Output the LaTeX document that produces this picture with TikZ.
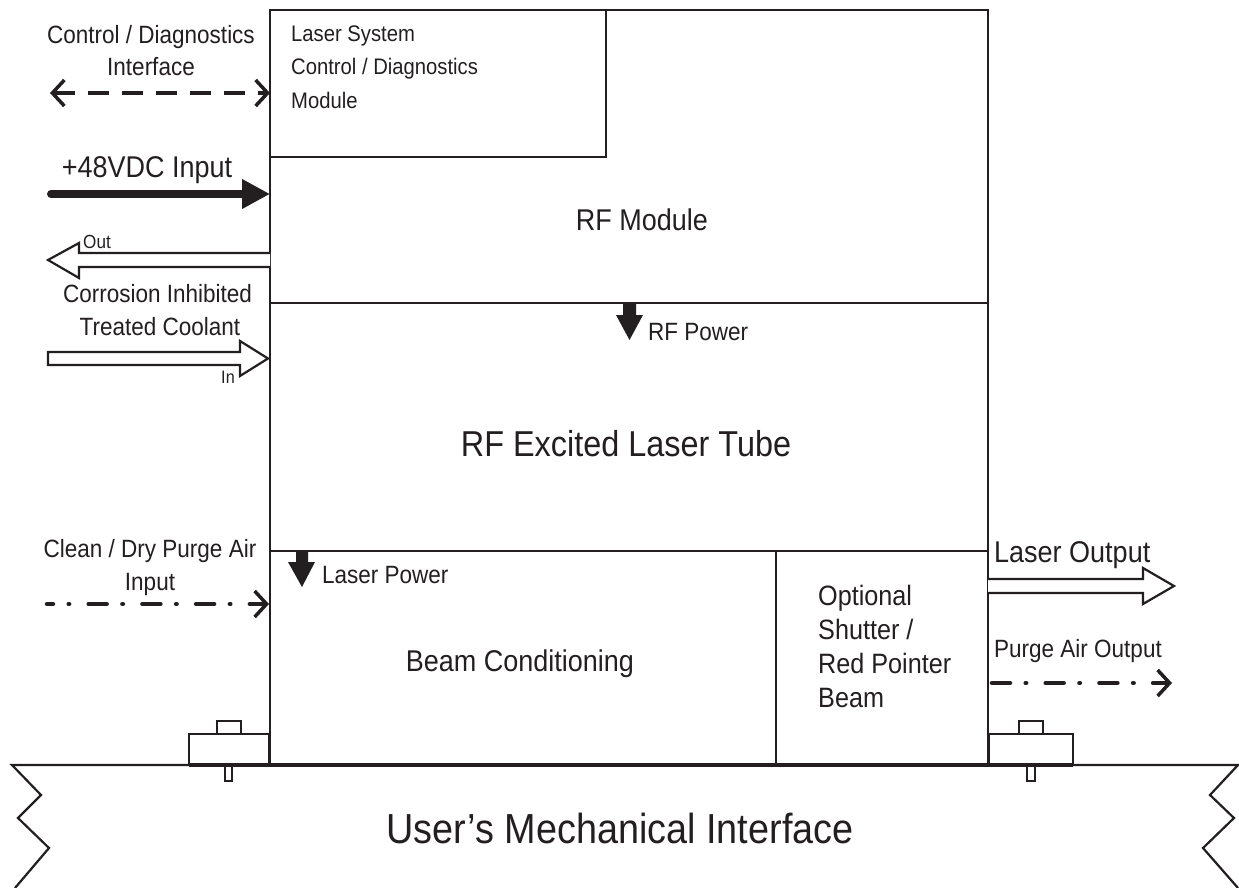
\documentclass[tikz,border=0pt]{standalone}
\usepackage{fontspec}
\setmainfont[FakeStretch=0.9]{Liberation Sans}
\usetikzlibrary{arrows.meta}
\definecolor{ink}{RGB}{35,31,32}
\begin{document}
\begin{tikzpicture}[x=1pt,y=-1pt,
  box/.style={draw=ink, line width=2.2pt, inner sep=0pt, outer sep=0pt, anchor=north west},
  smallbox/.style={draw=ink, line width=1.8pt, inner sep=0pt, outer sep=0pt, anchor=north west},
  txt/.style={text=ink, inner sep=0pt, anchor=base, font=\fontsize{25}{30}\selectfont},
  txtl/.style={txt, anchor=base west},
  mid/.style={font=\fontsize{30}{36}\selectfont},
  tiny/.style={font=\fontsize{19}{22}\selectfont},
  modtxt/.style={font=\fontsize{22.5}{27}\selectfont},
  shtxt/.style={font=\fontsize{28}{33}\selectfont},
  dasharrow/.style={draw=ink, line width=4pt, dash pattern=on 21pt off 13pt,
    {Straight Barb[length=12pt,width=26pt,line width=3.5pt]}-{Straight Barb[length=12pt,width=26pt,line width=3.5pt]}},
  dashdot/.style={draw=ink, line width=4.5pt, line cap=round,
    dash pattern=on 18pt off 15.7pt on 0.5pt off 19.5pt, dash phase=12pt},
  barb/.style={-{Straight Barb[length=12pt,width=26pt,line width=3.5pt]}},
  hollow/.style={draw=ink, line width=2.2pt, fill=white, line join=miter},
  solidtip/.style={fill=ink},
]
\useasboundingbox (0,0) rectangle (1239,888);

% ---- main blocks
\node[box, minimum width=718pt, minimum height=293pt] (rf) at (270,10) {};
\node[box, minimum width=336pt, minimum height=147pt] (ctrl) at (270,10) {};
\node[box, minimum width=718pt, minimum height=248pt] (tube) at (270,303) {};
\node[box, minimum width=506pt, minimum height=213pt] (beam) at (270,551) {};
\node[box, minimum width=212pt, minimum height=213pt] (shut) at (776,551) {};

% ---- feet
\node[box, minimum width=80pt, minimum height=31pt] (footL) at (189,734) {};
\node[smallbox, minimum width=24pt, minimum height=13pt] (nubL) at (217,721) {};
\node[smallbox, minimum width=7pt, minimum height=16pt] (pinL) at (225,765) {};
\node[box, minimum width=84pt, minimum height=31pt] (footR) at (989,734) {};
\node[smallbox, minimum width=24pt, minimum height=13pt] (nubR) at (1019,721) {};
\node[smallbox, minimum width=8pt, minimum height=16pt] (pinR) at (1027,765) {};

% ---- mechanical interface (base)
\coordinate (bL) at (12,765);
\coordinate (bR) at (1238,765);
\draw[draw=ink, line width=2.2pt, line join=miter]
  (15,888) -- (49,848) -- (18,818) -- (41,795) -- (bL) -- (bR)
  -- (1210,795) -- (1234,818) -- (1203,848) -- (1238,888);
\draw[draw=ink, line width=3.6pt] (footL.south west) -- (footR.south east);
\node[txt, font=\fontsize{42}{48}\selectfont] (user) at (620,843) {User’s Mechanical Interface};

% ---- block texts
\node[txtl, modtxt] (ms1) at (291,42) {Laser System};
\node[txtl, modtxt] (ms2) at (291,75) {Control / Diagnostics};
\node[txtl, modtxt] (ms3) at (291,109) {Module};
\node[txt, font=\fontsize{30}{36}\selectfont] (rft) at (642,230) {RF Module};
\node[txt, font=\fontsize{36}{42}\selectfont] (tubet) at (626,456) {RF Excited Laser Tube};
\node[txt, font=\fontsize{30}{36}\selectfont] (beamt) at (520,671) {Beam Conditioning};
\node[txtl, shtxt] (sh1) at (818,605) {Optional};
\node[txtl, shtxt] (sh2) at (818,639) {Shutter /};
\node[txtl, shtxt] (sh3) at (818,673) {Red Pointer};
\node[txtl, shtxt] (sh4) at (818,707) {Beam};

% ---- internal power arrows
\fill[solidtip] (623,303) -- (636,303) -- (636,315) -- (643,315) -- (629.5,340) -- (616,315) -- (623,315) -- cycle;
\node[txtl] (rfp) at (648,340) {RF Power};
\fill[solidtip] (296,551) -- (308,551) -- (308,562) -- (315,562) -- (302,587) -- (288,562) -- (296,562) -- cycle;
\node[txtl] (lp) at (322,583) {Laser Power};

% ---- control / diagnostics interface
\node[txt] (cd1) at (151,44) {Control / Diagnostics};
\node[txt] (cd2) at (151,76) {Interface};
\coordinate (cdL) at (50,93);
\draw[dasharrow] (cdL) -- (cdL -| ctrl.west);

% ---- +48VDC
\node[txt, mid] (dc) at (147,177) {+48VDC Input};
\coordinate (dcL) at (51,194);
\draw[draw=ink, line width=8pt, line cap=round, -{Triangle[length=28pt,width=28pt]}] (dcL) -- (dcL -| rf.west);

% ---- coolant
\draw[hollow] (270,253) -- (79,253) -- (79,243) -- (48,260) -- (79,278) -- (79,267) -- (270,267);
\node[txt, tiny] (outl) at (97,248) {Out};
\node[txt] (co1) at (157.5,302) {Corrosion Inhibited};
\node[txt] (co2) at (160,335) {Treated Coolant};
\draw[hollow] (48,352) -- (240,352) -- (240,341) -- (268,358.5) -- (240,376) -- (240,365) -- (48,365) -- cycle;
\node[txt, font=\fontsize{18}{22}\selectfont] (inl) at (228,383) {In};

% ---- purge air in
\node[txt] (pa1) at (150,557) {Clean / Dry Purge Air};
\node[txt] (pa2) at (150,590) {Input};
\coordinate (paL) at (47,604);
\draw[dashdot] (paL) -- ([xshift=-8pt]paL -| beam.west);
\draw[draw=ink, line width=3.5pt, barb] ([xshift=-14pt]paL -| beam.west) -- ([xshift=-1pt]paL -| beam.west);

% ---- laser output
\node[txtl, mid] (lo) at (994,562) {Laser Output};
\draw[hollow] (988,579) -- (1143,579) -- (1143,568) -- (1174,586) -- (1143,604) -- (1143,593) -- (988,593);

% ---- purge air output
\node[txtl] (po) at (994,657) {Purge Air Output};
\coordinate (poR) at (1172,683);
\draw[dashdot, dash phase=0pt] ([xshift=4pt]shut.east |- poR) -- ([xshift=-8pt]poR);
\draw[draw=ink, line width=3.5pt, barb] ([xshift=-14pt]poR) -- (poR);
\end{tikzpicture}
\end{document}
